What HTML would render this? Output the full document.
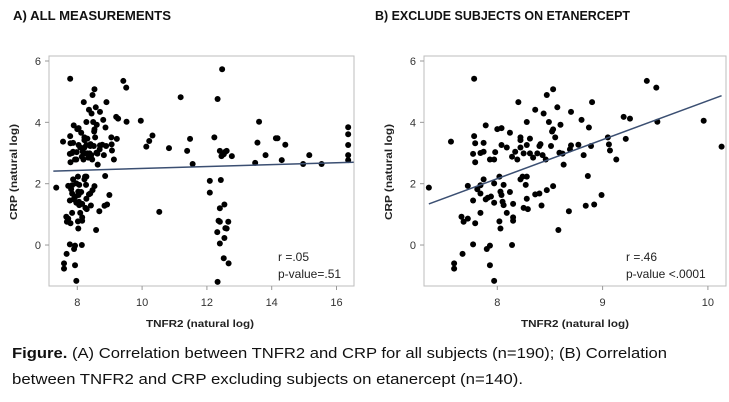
<!DOCTYPE html>
<html><head><meta charset="utf-8"><style>
html,body{margin:0;padding:0;background:#fff;}
svg{display:block;font-family:"Liberation Sans",sans-serif;}
</style></head><body>
<svg id="fig" width="729" height="402" viewBox="0 0 729 402" xmlns="http://www.w3.org/2000/svg">
<text x="13" y="20" font-size="13" font-weight="bold" fill="#111" textLength="158" lengthAdjust="spacingAndGlyphs">A) ALL MEASUREMENTS</text>
<text x="375" y="20" font-size="13" font-weight="bold" fill="#111" textLength="255" lengthAdjust="spacingAndGlyphs">B) EXCLUDE SUBJECTS ON ETANERCEPT</text>
<g id="pa"></g>
<g id="pb"></g>
<text x="12" y="358" font-size="15" fill="#111" textLength="655" lengthAdjust="spacingAndGlyphs"><tspan font-weight="bold">Figure.</tspan> (A) Correlation between TNFR2 and CRP for all subjects (n=190); (B) Correlation</text>
<text x="12" y="384" font-size="15" fill="#111" textLength="511" lengthAdjust="spacingAndGlyphs">between TNFR2 and CRP excluding subjects on etanercept (n=140).</text>
</svg>
<script>
const bX=[7.35,7.56,7.78,7.78,7.79,7.77,7.79,7.84,7.87,7.87,7.89,7.93,7.97,7.98,8.0,8.04,8.04,8.09,8.12,8.14,8.17,8.19,8.20,8.22,8.22,8.22,8.25,8.28,8.28,8.31,8.31,8.34,8.36,8.38,8.40,8.41,8.43,8.44,8.46,8.47,8.49,8.51,8.52,8.53,8.53,8.55,8.57,8.59,8.60,8.62,8.63,8.69,8.70,8.70,8.77,8.80,8.82,8.87,8.89,8.90,9.05,9.06,9.07,9.13,9.20,9.22,9.26,9.42,9.51,9.52,9.96,10.13,
7.72,7.81,7.84,7.87,7.84,7.77,7.84,7.89,7.91,7.94,7.97,7.97,8.02,8.03,8.04,8.06,8.05,8.06,8.02,8.03,8.09,8.12,8.15,8.15,8.15,8.14,8.22,8.24,8.28,8.27,8.28,8.25,8.29,8.36,8.40,8.42,8.47,8.53,8.58,8.68,8.84,8.86,8.92,8.99,7.66,7.68,7.72,7.79,7.67,7.59,7.59,7.77,7.90,7.93,7.93,7.97];
const bY=[1.87,3.37,5.42,3.55,3.32,2.97,2.70,3.0,3.04,3.33,3.90,2.79,2.79,3.03,3.78,3.81,3.26,3.18,3.66,2.88,3.04,2.79,4.66,3.51,3.42,3.18,2.99,3.26,4.01,3.47,2.99,2.85,4.41,2.99,3.23,3.29,2.93,4.29,2.79,4.89,4.01,3.23,3.70,3.77,5.08,3.51,4.49,3.01,3.92,2.98,2.62,3.12,3.25,4.34,3.27,4.08,2.93,3.83,3.23,4.66,3.51,3.28,3.08,2.79,4.18,3.46,4.12,5.35,5.13,4.02,4.05,3.21,
1.93,1.82,1.95,2.14,1.68,1.45,1.05,1.49,1.54,1.58,2.01,1.38,2.23,1.74,1.63,1.96,1.41,1.30,0.77,0.54,1.05,1.73,1.34,0.90,0.79,0.0,2.14,2.23,2.23,1.96,1.51,1.21,1.17,1.65,1.68,1.29,1.79,1.92,0.49,1.10,1.28,2.25,1.32,1.63,0.92,0.76,0.86,0.71,-0.29,-0.60,-0.77,0.02,-0.13,-0.02,-0.66,-1.17];
const extraX=[10.22,10.32,10.53,10.83,11.19,11.39,11.48,11.56,12.09,12.09,12.23,12.33,12.47,12.40,12.45,12.52,12.57,12.61,12.77,12.43,12.40,12.54,12.40,12.36,12.66,12.57,12.61,12.32,12.54,12.40,12.52,12.67,12.33,13.49,13.56,13.61,13.81,14.13,14.18,14.31,14.42,14.97,15.16,15.54,16.36,16.36,16.36,16.36,16.36];
const extraY=[3.39,3.57,1.08,3.16,4.82,3.07,3.46,2.64,2.09,1.71,3.51,4.76,5.73,3.07,2.90,2.96,3.04,3.07,2.90,2.12,1.20,1.32,0.76,0.79,0.76,0.55,0.54,0.42,0.23,0.05,-0.43,-0.60,-1.20,2.68,3.34,4.02,2.93,3.48,3.48,2.77,3.27,2.64,2.93,2.64,3.84,3.61,3.26,2.93,2.77];
const fitA=[7.26,2.41,16.53,2.70];
const fitB=[7.35,1.34,10.13,4.87];
const yTicks=[0,2,4,6];
const xTicksA=[8,10,12,14,16];
const xTicksB=[8,9,10];
const statsA=["r =.05","p-value=.51"];
const statsB=["r =.46","p-value <.0001"];

const NS="http://www.w3.org/2000/svg";
function mk(parent,tag,attrs){const e=document.createElementNS(NS,tag);for(const k in attrs)e.setAttribute(k,attrs[k]);parent.appendChild(e);return e;}
function panel(g,cfg){
  const sx=v=>cfg.x0+(v-cfg.xa)*cfg.kx, sy=v=>61+(6-v)*30.67;
  const box=mk(g,'rect',{x:cfg.bl,y:56,width:cfg.br-cfg.bl,height:230,fill:'none',stroke:'#bdbdbd','stroke-width':1});
  
  
  yTicks.forEach(t=>{
    const l=mk(g,'line',{x1:cfg.bl-4,x2:cfg.bl,y1:sy(t),y2:sy(t),stroke:'#999'});
    
    
    const tx=mk(g,'text',{x:cfg.bl-8,y:sy(t)+4,'font-size':11,'text-anchor':'end',fill:'#333'});
    tx.textContent=t;
    
    
  });
  cfg.xt.forEach(t=>{
    const l=mk(g,'line',{x1:sx(t),x2:sx(t),y1:286,y2:290,stroke:'#999'});
    
    
    const tx=mk(g,'text',{x:sx(t),y:306,'font-size':11,'text-anchor':'middle',fill:'#333'});
    tx.textContent=t;
    
    
  });
  const xt=mk(g,'text',{x:cfg.xtc,y:327,'font-size':10.5,'font-weight':'bold','text-anchor':'middle',fill:'#222',textLength:108,lengthAdjust:'spacingAndGlyphs'});
  xt.textContent='TNFR2 (natural log)';
  
  
  const yt=mk(g,'text',{x:0,y:0,'font-size':10.5,'font-weight':'bold','text-anchor':'middle',fill:'#222',transform:`translate(${cfg.ytx},172) rotate(-90)`,textLength:96,lengthAdjust:'spacingAndGlyphs'});
  yt.textContent='CRP (natural log)';
  
  
  cfg.px.forEach((v,i)=>{
    const c=mk(g,'circle',{cx:sx(v),cy:sy(cfg.py[i]),r:3,fill:'#000'});
    
    
  });
  const f=cfg.fit;
  const ln=mk(g,'line',{x1:sx(f[0]),y1:sy(f[1]),x2:sx(f[2]),y2:sy(f[3]),stroke:'#3b4f72','stroke-width':1.5});
  
  
  cfg.st.forEach((s,i)=>{
    const t=mk(g,'text',{x:cfg.stx,y:261+i*17,'font-size':12,fill:'#222'});
    t.textContent=s;
    
    
  });
}
panel(document.getElementById('pa'),{bl:49,br:354,x0:77.3,xa:8,kx:32.4,xt:xTicksA,px:bX.concat(extraX),py:bY.concat(extraY),fit:fitA,st:statsA,stx:278,xtc:200,ytx:17});
panel(document.getElementById('pb'),{bl:424,br:726,x0:497.3,xa:8,kx:105.3,xt:xTicksB,px:bX,py:bY,fit:fitB,st:statsB,stx:626,xtc:575,ytx:392});
</script>
</body></html>
